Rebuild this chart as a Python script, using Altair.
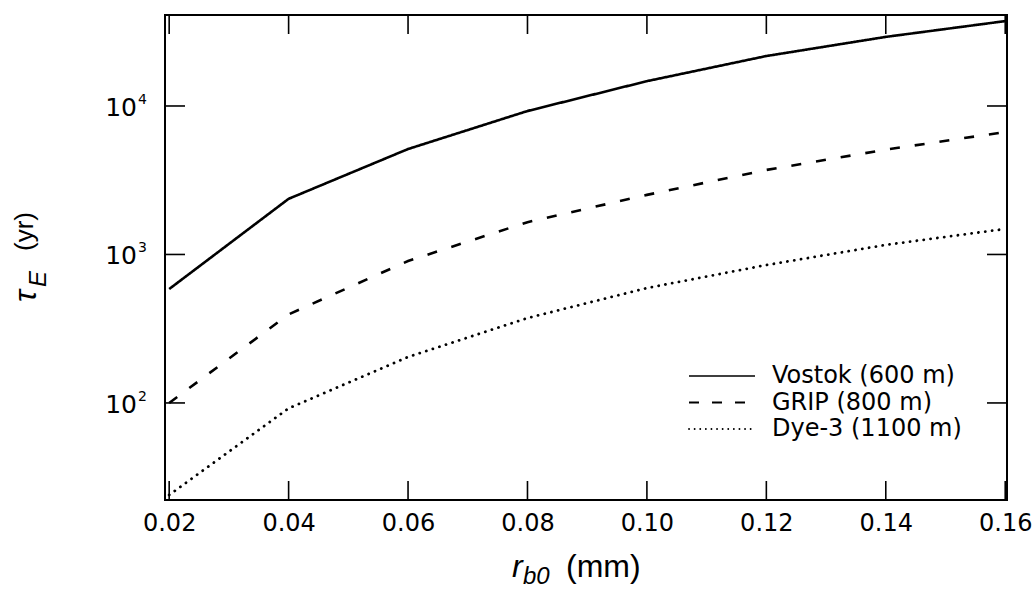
import altair as alt
import pandas as pd

# ---- data ----
r_b0 = [0.02, 0.04, 0.06, 0.08, 0.10, 0.12, 0.14, 0.16]
vostok = [585, 2370, 5130, 9250, 14700, 21700, 29200, 37300]
grip = [100, 395, 904, 1650, 2520, 3710, 5080, 6680]
dye3 = [24, 92, 204, 373, 594, 849, 1160, 1486]
series_names = ["Vostok (600 m)", "GRIP (800 m)", "Dye-3 (1100 m)"]
x_ticks = [0.02, 0.04, 0.06, 0.08, 0.10, 0.12, 0.14, 0.16]
y_ticks = [100, 1000, 10000]
y_tick_base = ["10", "10", "10"]
y_tick_exp = ["2", "3", "4"]

W, H = 842, 485
FONT = "DejaVu Sans"
TFONT = "Liberation Sans"
TICK = 19
line_dash = [[1, 0], [10, 15], [0.1, 6.8]]
line_cap = ["butt", "butt", "round"]
line_width = [2.6, 2.6, 2.8]
legend_dash = [[1, 0], [10, 13], [0.1, 5.5]]
legend_width = [1.6, 1.8, 1.8]

xscale = alt.Scale(domain=[0.0193, 0.1603], zero=False, nice=False)
yscale = alt.Scale(type="log", domain=[22.2, 41000], nice=False)

xaxis = alt.Axis(values=x_ticks, format=".2f", ticks=False, domain=False, grid=False,
                 labelFont=FONT, labelFontSize=24, labelPadding=11, labelColor="black",
                 title=None)
yaxis = alt.Axis(values=y_ticks, labels=False, ticks=False, domain=False, grid=False,
                 title=None)


def X(field):
    return alt.X(field, type="quantitative", scale=xscale, axis=xaxis)


def Y(field):
    return alt.Y(field, type="quantitative", scale=yscale, axis=yaxis)


line_layers = []
for i, (name, vals) in enumerate(zip(series_names, [vostok, grip, dye3])):
    d = pd.DataFrame({"r": r_b0, "tau": vals, "series": name})
    line_layers.append(
        alt.Chart(d).mark_line(color="black", strokeWidth=line_width[i],
                               strokeDash=line_dash[i], strokeCap=line_cap[i]).encode(
            x=X("r"), y=Y("tau"))
    )

xt = pd.DataFrame({"r": x_ticks})
yt = pd.DataFrame({"tau": y_ticks, "base": y_tick_base, "exp": y_tick_exp})
tick_layers = [
    alt.Chart(xt).mark_rule(color="black", strokeWidth=1.6).encode(x=X("r"), y=alt.value(0), y2=alt.value(TICK)),
    alt.Chart(xt).mark_rule(color="black", strokeWidth=1.6).encode(x=X("r"), y=alt.value(H - TICK), y2=alt.value(H)),
    alt.Chart(yt).mark_rule(color="black", strokeWidth=1.6).encode(y=Y("tau"), x=alt.value(0), x2=alt.value(TICK + 1)),
    alt.Chart(yt).mark_rule(color="black", strokeWidth=1.6).encode(y=Y("tau"), x=alt.value(W - TICK - 1), x2=alt.value(W)),
]

# y tick labels: "10" with a raised exponent
ylabel_layers = [
    alt.Chart(yt).mark_text(align="right", baseline="alphabetic", font=FONT, fontSize=25,
                            color="black", dy=10).encode(
        y=Y("tau"), x=alt.value(-28), text="base:N"),
    alt.Chart(yt).mark_text(align="left", baseline="alphabetic", font=FONT, fontSize=14,
                            color="black", dy=-2).encode(
        y=Y("tau"), x=alt.value(-27), text="exp:N"),
]

# ---- legend (inside the plot, lower right) ----
legend_layers = []
for i, name in enumerate(series_names):
    ld = pd.DataFrame({"label": [name]})
    yy = 361 + 26.5 * i
    legend_layers.append(
        alt.Chart(ld).mark_rule(color="black", strokeWidth=legend_width[i], strokeDash=legend_dash[i],
                                strokeCap=line_cap[i]).encode(
            x=alt.value(524), x2=alt.value(590), y=alt.value(yy))
    )
    legend_layers.append(
        alt.Chart(ld).mark_text(align="left", baseline="middle", font=FONT, fontSize=24,
                                color="black").encode(
            x=alt.value(607), y=alt.value(yy), text="label:N")
    )


# ---- axis titles composed of pieces (italic symbol + subscript) ----
def txt(s, x, y, size, italic=False, angle=0):
    return alt.Chart(pd.DataFrame({"t": [s]})).mark_text(
        align="left", baseline="alphabetic", font=TFONT, fontSize=size,
        fontStyle="italic" if italic else "normal", angle=angle, color="black"
    ).encode(x=alt.value(x), y=alt.value(y), text="t:N")


title_layers = [
    txt("r", 347, 562, 32, italic=True),
    txt("b0", 358, 569, 24, italic=True),
    txt("(mm)", 401, 562, 32),
    txt("τ", -129, 287, 32, italic=True, angle=270),
    txt("E", -119, 272, 24, italic=True, angle=270),
    txt("(yr)", -132, 236, 26, angle=270),
]

chart = alt.layer(*line_layers, *tick_layers, *ylabel_layers, *legend_layers, *title_layers).properties(
    width=W, height=H,
    autosize=alt.AutoSizeParams(type="none"),
    padding={"left": 165, "top": 15, "right": 29, "bottom": 95},
    background="white",
).configure_view(stroke="black", strokeWidth=2)

chart.save("out.html", embed_options={"renderer": "svg", "actions": False})
